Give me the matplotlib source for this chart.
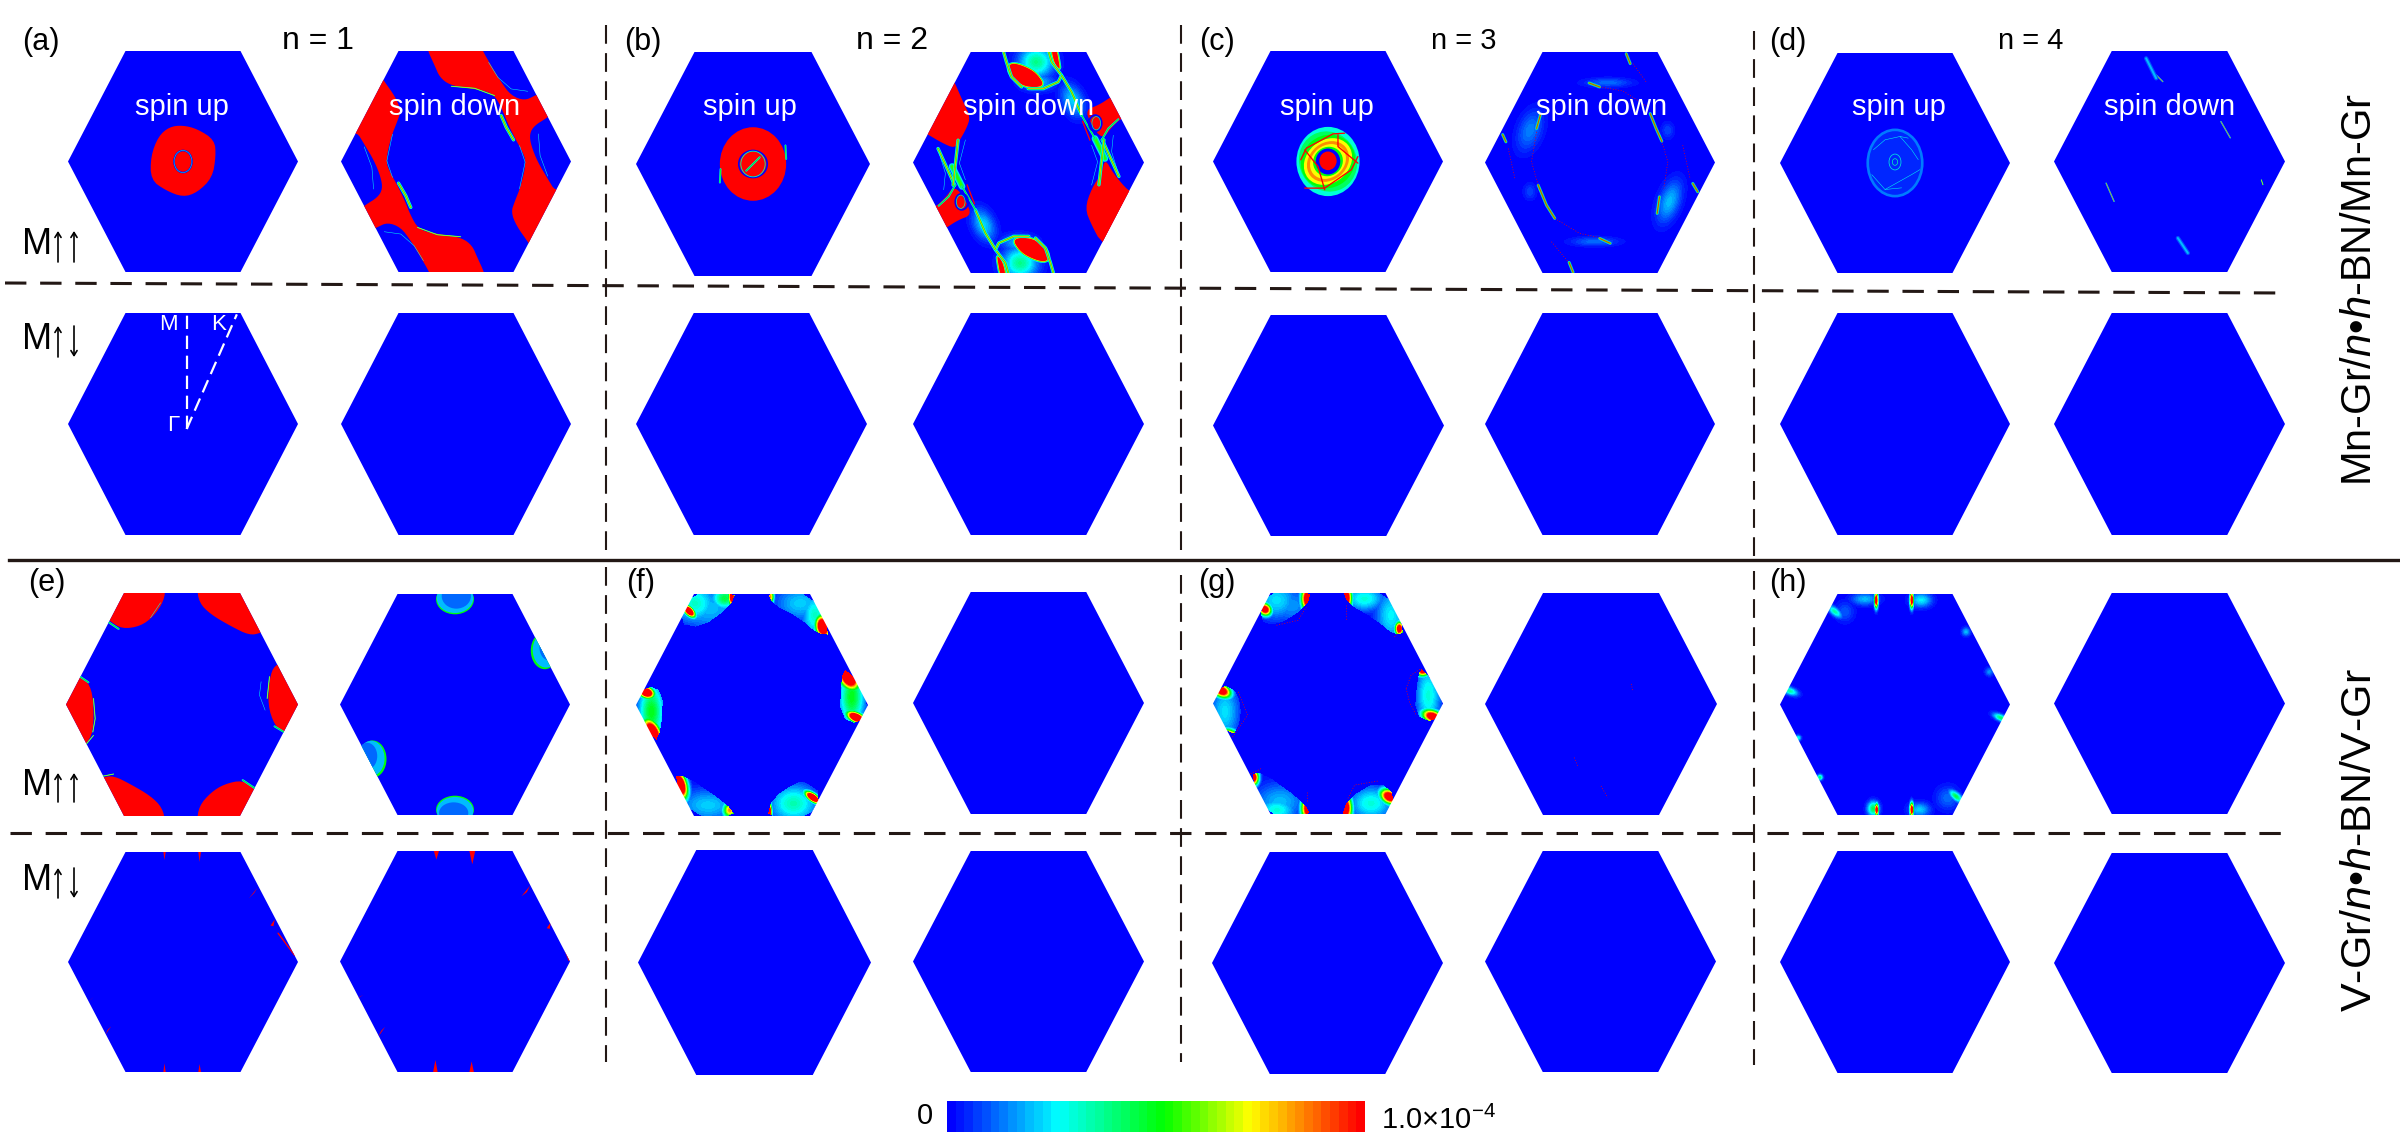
import numpy as np
import matplotlib
matplotlib.use("Agg")
import matplotlib.pyplot as plt
from matplotlib.colors import LinearSegmentedColormap, ListedColormap
from matplotlib.patches import Polygon, Ellipse
from matplotlib.path import Path

plt.rcParams['font.family'] = ['Liberation Sans', 'DejaVu Sans']
plt.rcParams['mathtext.fontset'] = 'custom'
plt.rcParams['mathtext.rm'] = 'Liberation Sans'
plt.rcParams['mathtext.it'] = 'Liberation Sans:italic'
plt.rcParams['mathtext.bf'] = 'Liberation Sans:bold'

W, H = 2400, 1145
INK = '#231815'

# ---------- panel boxes, read in image pixels ----------
ROW_LEFT = [[68, 341, 636, 913, 1213, 1485, 1780, 2054],
            [68, 341, 636, 913, 1213, 1485, 1780, 2054],
            [66, 340, 636, 913, 1213, 1485, 1780, 2054],
            [68, 340, 638, 913, 1212, 1485, 1780, 2054]]
ROW_RIGHT = [[298, 571, 870, 1144, 1443, 1715, 2010, 2285],
             [298, 571, 867, 1144, 1444, 1715, 2010, 2285],
             [298, 570, 868, 1144, 1443, 1717, 2010, 2285],
             [298, 570, 871, 1144, 1443, 1716, 2010, 2285]]
ROW_TOP = [[51, 51, 52, 52, 51, 52, 53, 51],
           [313, 313, 313, 313, 315, 313, 313, 313],
           [593, 594, 594, 592, 593, 593, 594, 593],
           [852, 851, 850, 851, 852, 851, 851, 853]]
ROW_BOTTOM = [[272, 272, 276, 273, 272, 273, 273, 272],
              [535, 535, 535, 535, 536, 535, 535, 535],
              [816, 815, 816, 814, 814, 815, 815, 814],
              [1072, 1072, 1075, 1072, 1074, 1072, 1073, 1073]]

# hexagon in panel units (3 units = 1 image pixel)
HEX_X = [-173, 173, 346, 173, -173, -346]
HEX_Y = [-332, -332, 0, 332, 332, 0]

# ---------- colour scale ----------
CBAR_POS = [0.0, 0.26, 0.52, 0.73, 1.0]
CBAR_COL = ['#0000ff', '#00ffff', '#00ff00', '#ffff00', '#ff0000']
CBAR_LEVELS = 48

# line layers: (width in panel units, level)
STYLES = {'hot': [(9, .2), (6, .42), (4, .62), (2, 1.0)],
          'green': [(10, .26), (6, .5), (2.5, .8)],
          'band': [(20, .24), (13, .42), (7, .55)],
          'teal': [(6, .22), (3, .48)],
          'rim': [(3, .4), (1.5, .7)],
          'red': [(4, 1.0)],
          'thin': [(4, .3), (1.5, .9)],
          'dot': [(2, 1.0)],
          'faint': [(1.5, .28)],
          'pale': [(13, .1), (6, .2)]}

# Blobs: (x, y, sigma_x, sigma_y, angle_deg, peak); polygons: vertices.
# ---------- (a) ----------
A_UP_RED = [(-2, -109), (43, -98), (95, -65), (99, -16), (88, 49), (43, 93), (0, 107),
            (-52, 87), (-97, 55), (-97, -16), (-74, -76), (-41, -104)]
A_UP_RINGS = [(0, 0, 27, 33, 0, 0.0, 5), (0, 0, 27, 33, 0, .3, 1.5)]
A_DN_RED = [(280, 17), (300, 60), (315, 95), (345, 118), (400, 128), (450, 135), (480, 150), (500, 185),
            (520, 235), (545, 285), (565, 320), (575, 350), (560, 420), (540, 470), (530, 500), (545, 540),
            (582, 592), (620, 650), (760, 500), (690, 420), (663, 438), (640, 400), (610, 350), (590, 300),
            (585, 265), (600, 240), (636, 218), (680, 185), (700, 100), (640, 130), (602, 150), (570, 165),
            (530, 150), (500, 110), (470, 60), (445, 17), (430, -20), (270, -20)]
A_DN_LINES = [([(500, 210), (515, 245), (537, 283)], 'green'),
              ([(462, 50), (490, 95), (530, 130), (580, 137)], 'faint'),
              ([(612, 265), (617, 330), (640, 392)], 'faint'),
              ([(350, 122), (420, 128), (480, 150)], 'rim'),
              ([(555, 300), (572, 350), (555, 430)], 'faint')]
# ---------- (b) ----------
B_UP_RINGS = [(0, 0, 42, 40, 0, 0.0, 5), (0, 0, 36, 38, 0, .35, 2.5)]
B_UP_LINES = [([(-20, 20), (0, 0), (20, -20)], 'teal'),
              ([(-96, 15), (-98, 55)], 'teal'), ([(96, -55), (98, -15)], 'teal')]
B_DN_RED = [[(135, 85), (150, 112), (175, 170), (197, 215), (185, 250), (165, 285), (150, 310), (110, 292),
             (70, 268), (20, 240), (60, 120)],
            [(90, 487), (120, 460), (150, 420), (185, 470), (200, 510), (160, 525), (125, 548), (100, 565), (50, 500)]]
B_DN_RED_ONCE = [[(600, 340), (625, 385), (672, 440), (720, 470), (660, 600), (590, 596), (560, 540), (540, 490),
                  (560, 430), (590, 385)]]
B_DN_TOP = [[(310, 60), (330, 53), (375, 70), (400, 90), (417, 118), (395, 127), (355, 122), (325, 100), (312, 80)],
            [(438, 10), (455, 10), (463, 55), (465, 72), (450, 58)]]
B_DN_BLOBS = [(395, 50, 35, 32, 0, .38), (400, 110, 35, 18, 0, .2), (505, 165, 22, 35, -25, .22)]
B_DN_LINES = [([(295, 15), (305, 50), (320, 95), (350, 125)], 'green'),
              ([(430, 15), (440, 50), (470, 90), (460, 110), (415, 130), (370, 130)], 'green'),
              ([(470, 90), (500, 140), (530, 210)], 'green'),
              ([(570, 280), (600, 340)], 'band'),
              ([(592, 284), (642, 394)], 'green'),
              ([(582, 419), (597, 284)], 'green'),
              ([(590, 285), (610, 250), (640, 222)], 'teal'),
              ([(530, 210), (570, 280)], 'teal'),
              ([(533, 228), (555, 285)], 'red'),
              ([(625, 270), (620, 320), (640, 385)], 'faint'),
              ([(560, 300), (578, 350), (560, 420)], 'faint')]
B_DN_RINGS = [(171, 470, 19, 24, 0, 0.0, 6), (168, 470, 13, 20, 0, .35, 2)]
# ---------- (c) ----------
C_UP_ELLIPSES = [(0, 0, 95, 104, 0, .3), (0, 0, 86, 92, -30, .42), (0, 0, 84, 78, -40, .52),
                 (0, 0, 78, 64, -40, .72), (0, 0, 68, 56, -40, .84), (0, 0, 58, 48, -40, .72),
                 (0, 0, 46, 43, -40, .5), (0, 0, 37, 39, 0, 0.0), (0, -2, 26, 28, 0, 1.0)]
C_UP_LINES = [([(-82, -5), (-65, -40), (15, -83), (50, -85)], 'red'),
              ([(-70, -35), (-30, 15), (-10, 85)], 'red'),
              ([(30, -80), (30, -45), (90, 5)], 'red'),
              ([(90, -15), (70, 25), (-10, 80), (-70, 80)], 'red')]
C_DN_BLOBS = [(150, 255, 25, 45, 20, .14), (570, 470, 22, 45, 20, .2), (345, 590, 50, 10, 0, .12),
              (385, 112, 50, 10, 0, .12), (150, 440, 14, 18, 0, .08), (565, 255, 14, 18, 0, .08)]
C_DN_LINES = [([(512, 205), (530, 250), (547, 288)], 'hot'),
              ([(175, 420), (200, 480), (225, 520)], 'hot'),
              ([(182, 208), (170, 250)], 'hot'),
              ([(540, 455), (533, 505)], 'hot'),
              ([(328, 113), (360, 125)], 'hot'),
              ([(392, 595), (360, 580)], 'hot'),
              ([(440, 25), (452, 55)], 'hot'),
              ([(268, 652), (280, 682)], 'hot'),
              ([(68, 268), (78, 290)], 'hot'),
              ([(640, 415), (655, 440)], 'hot'),
              ([(360, 125), (430, 137), (505, 185)], 'dot'),
              ([(547, 288), (565, 350), (553, 430)], 'dot'),
              ([(225, 520), (300, 565), (360, 578)], 'dot'),
              ([(170, 260), (155, 350), (175, 420)], 'dot'),
              ([(85, 310), (105, 400)], 'dot'),
              ([(610, 300), (632, 400)], 'dot'),
              ([(460, 55), (500, 110)], 'dot'),
              ([(215, 590), (265, 650)], 'dot')]
# ---------- (d) ----------
D_UP_ELLIPSES = [(0, 0, 86, 104, 0, .13), (0, 0, 78, 96, 0, .06)]
D_UP_LINES = [([(-65, -40), (-30, -70), (15, -80), (40, -75)], 'faint'),
              ([(15, -80), (50, -40), (70, -10)], 'faint'),
              ([(-70, 35), (-30, 80), (20, 75)], 'faint'),
              ([(-30, 80), (50, 35), (75, 20)], 'faint')]
D_UP_RINGS = [(0, -3, 18, 24, 0, .3, 2), (0, -3, 8, 10, 0, .35, 2)]
D_DN_LINES = [([(154, -120), (182, -71)], 'thin'),
              ([(-190, 65), (-166, 120)], 'thin'),
              ([(-40, -260), (-20, -240)], 'thin'), ([(25, 230), (55, 275)], 'pale'),
              ([(-70, -310), (-40, -250)], 'pale'), ([(275, 55), (280, 70)], 'rim')]
# ---------- (e) ----------
E_UP_RED = [[(190, 5), (315, 5), (310, 50), (280, 95), (240, 125), (185, 133), (150, 110), (130, 95), (170, 5)],
            [(408, 5), (555, 5), (620, 130), (600, 145), (565, 152), (510, 125), (450, 90), (415, 55)],
            [(640, 240), (680, 230), (740, 358), (690, 450), (668, 440), (640, 420), (620, 360), (625, 280)],
            [(60, 278), (85, 292), (100, 340), (100, 440), (75, 480), (55, 490), (-10, 360), (40, 260)],
            [(125, 575), (160, 570), (210, 595), (270, 630), (305, 665), (315, 710), (170, 710), (110, 590)],
            [(408, 710), (415, 660), (450, 620), (490, 595), (545, 583), (580, 610), (600, 625), (545, 710)]]
E_UP_LINES = [([(145, 113), (175, 133)], 'teal'), ([(60, 275), (85, 292)], 'teal'),
              ([(75, 480), (100, 450)], 'rim'), ([(125, 572), (160, 565)], 'rim'),
              ([(545, 583), (582, 608)], 'teal'), ([(640, 423), (668, 440)], 'teal'),
              ([(100, 340), (105, 400), (98, 440)], 'rim'), ([(625, 275), (618, 340)], 'rim'),
              ([(300, 55), (270, 100)], 'faint'), ([(600, 290), (595, 330), (612, 375)], 'faint')]
E_DN_ELLIPSES = [(0, -316, 57, 45, 0, .5), (0, -320, 55, 45, 0, .2), (4, -326, 44, 38, 0, .12),
                 (270, -162, 42, 56, 0, .5), (274, -164, 40, 53, 0, .2), (284, -172, 30, 40, 0, .12),
                 (-248, 164, 42, 56, 0, .5), (-252, 162, 40, 53, 0, .2), (-264, 155, 30, 40, 0, .12),
                 (0, 316, 57, 42, 0, .5), (0, 320, 55, 42, 0, .2), (-4, 326, 44, 32, 0, .12)]
E2_UP_SPIKES = [[(-59, -332), (-52, -332), (-56, -308)], [(46, -332), (54, -332), (50, -302)],
                [(224, -224), (198, -192), (214, -208)], [(263, -110), (276, -128), (272, -108)],
                [(-284, 120), (-268, 105), (-276, 112)], [(-234, 220), (-216, 194), (-226, 204)],
                [(-59, 332), (-52, 332), (-56, 306)], [(46, 332), (54, 332), (50, 308)]]
E2_DN_SPIKES = [[(-64, -333), (-48, -333), (-56, -306)], [(43, -333), (61, -333), (52, -292)],
                [(226, -228), (200, -196), (216, -208)], [(276, -100), (288, -118), (285, -98)],
                [(-298, 112), (-276, 100), (-288, 108)], [(-232, 228), (-210, 196), (-222, 208)],
                [(-66, 333), (-52, 333), (-59, 296)], [(43, 333), (57, 333), (50, 300)]]
E2_UP_LINES = [([(286, -87), (336, -20)], 'red')]
E2_DN_LINES = [([(316, -76), (343, -3)], 'red')]
# ---------- (f) ----------
F_POCKETS = [([(185, 20), (320, 20), (300, 65), (215, 128), (145, 115)],
              [(178, 78, 15, 8, 45, 1.6), (285, 40, 26, 22, 0, .46), (306, 35, 7, 20, 0, 1.25), (195, 55, 45, 40, 0, .32),
               (240, 70, 70, 50, 0, .2)]),
             ([(410, 20), (540, 20), (605, 150), (560, 145), (510, 100), (430, 60)],
              [(578, 125, 14, 22, -10, 1.6), (420, 35, 8, 16, 0, .85), (510, 55, 55, 38, 0, .22), (555, 90, 28, 45, 0, .32)]),
             ([(5, 360), (50, 300), (100, 320), (95, 430), (75, 475)],
              [(50, 322, 16, 11, 20, 1.6), (68, 442, 15, 28, -25, 1.6), (65, 380, 26, 60, 0, .5)]),
             ([(650, 245), (722, 360), (685, 420), (630, 395), (632, 280)],
              [(655, 275, 18, 28, -30, 1.6), (678, 397, 20, 10, 25, 1.6), (665, 335, 26, 60, 0, .5)]),
             ([(130, 575), (165, 570), (290, 655), (320, 695), (185, 695)],
              [(150, 600, 14, 28, -15, 1.6), (300, 675, 14, 16, 0, .85), (235, 660, 65, 35, 0, .22)]),
             ([(410, 700), (425, 640), (500, 590), (525, 590), (575, 625), (535, 700)],
              [(548, 637, 18, 8, 35, 1.6), (418, 680, 5, 18, 0, 1.25), (490, 655, 50, 40, 0, .34)])]
F2_DN_LINES = [([(295, -330), (295, -310)], 'faint')]
# ---------- (g) ----------
G_POCKETS = [([(190, 15), (320, 15), (305, 65), (215, 122), (160, 105)],
              [(180, 72, 14, 12, 40, 1.25), (308, 40, 13, 26, 0, 1.3), (215, 45, 45, 40, 0, .24), (260, 60, 50, 40, 0, .16)]),
             ([(415, 15), (545, 15), (605, 140), (570, 150), (510, 100), (430, 55)],
              [(585, 130, 9, 14, 0, 1.25), (425, 38, 12, 26, 0, 1.3), (480, 40, 40, 25, 0, .3), (560, 90, 32, 55, 0, .26)]),
             ([(10, 355), (50, 295), (100, 320), (110, 400), (80, 462)],
              [(50, 316, 20, 13, 25, 1.3), (78, 455, 20, 13, 30, 1.25), (60, 380, 30, 60, 0, .24)]),
             ([(655, 245), (725, 355), (690, 415), (630, 390), (640, 270)],
              [(655, 255, 14, 12, 0, 1.2), (685, 395, 22, 13, 20, 1.3), (672, 330, 26, 65, 0, .3)]),
             ([(135, 570), (170, 560), (295, 650), (320, 695), (185, 695)],
              [(145, 578, 11, 16, 0, 1.25), (310, 670, 14, 26, 0, 1.3), (225, 650, 55, 40, 0, .2), (215, 675, 40, 25, 0, .3)]),
             ([(410, 700), (430, 640), (520, 588), (575, 630), (545, 700)],
              [(555, 635, 20, 14, 30, 1.3), (422, 670, 14, 28, 0, 1.35), (500, 655, 45, 35, 0, .3)])]
G_LINES = [([(215, 120), (280, 105), (305, 65)], 'dot'), ([(100, 320), (128, 390), (80, 460)], 'dot'),
           ([(605, 310), (620, 270), (650, 250)], 'dot'), ([(605, 310), (615, 350), (635, 390)], 'dot'),
           ([(130, 570), (170, 550)], 'dot'), ([(430, 640), (450, 600), (520, 588)], 'dot'),
           ([(570, 155), (590, 135)], 'dot'), ([(308, 620), (308, 650)], 'dot'), ([(425, 60), (425, 105)], 'dot')]
G_DN_LINES = [([(90, -60), (95, -40)], 'dot'), ([(-80, 160), (-70, 185)], 'dot'), ([(0, 245), (20, 280)], 'dot')]
# ---------- (h) ----------
H_BLOBS = [(304, 45, 4, 16, 0, 1.3), (270, 42, 28, 13, 0, .2), (412, 45, 4, 16, 0, 1.3), (440, 45, 22, 15, 0, .26),
           (180, 80, 17, 8, 40, .36), (210, 80, 20, 22, 0, .1), (45, 318, 17, 8, 20, .36), (680, 400, 17, 7, 25, .42),
           (545, 635, 17, 8, 40, .45), (520, 640, 25, 25, 0, .12), (295, 672, 12, 15, 0, .45), (305, 675, 4, 12, 0, 1.3),
           (412, 675, 4, 14, 0, 1.3), (435, 675, 22, 15, 0, .22), (70, 460, 6, 6, 0, .3), (135, 578, 6, 6, 0, .42),
           (575, 140, 9, 9, 0, .2), (645, 260, 9, 9, 0, .16)]

# ---------- annotation texts ----------
PANEL_LABELS = ['(a)', '(b)', '(c)', '(d)', '(e)', '(f)', '(g)', '(h)']
LABEL_X = [22, 624, 1199, 1769, 28, 626, 1198, 1769]
LABEL_Y = [42, 42, 42, 42, 583, 583, 583, 583]
N_LABELS = ['n = 1', 'n = 2', 'n = 3', 'n = 4']
N_X = [318, 892, 1464, 2031]
N_SIZE = [23, 23, 21, 21]
SPIN_UP_X = [182, 750, 1327, 1899]
SPIN_DOWN_X = [455, 1029, 1602, 2170]
MAG_Y0 = [229, 324, 771, 866]
MAG_Y1 = [260, 355, 800, 896]
MAG_SECOND_UP = [True, False, True, False]
RIGHT_LABELS = ['Mn-Gr/$\\mathit{n}$•$\\mathit{h}$-BN/Mn-Gr', 'V-Gr/$\\mathit{n}$•$\\mathit{h}$-BN/V-Gr']
RIGHT_Y = [290, 840]
RIGHT_SIZE = [30, 31]
VLINE_X = [606, 606, 1181, 1181, 1754, 1754]
VLINE_Y0 = [25, 567, 25, 575, 31, 571]
VLINE_Y1 = [554, 1062, 554, 1062, 558, 1065]
CBAR_BOX = [947, 1365, 1101, 1132]

# ---------- which features go in which panel ----------
PANELS = {
    (0, 0): dict(red=[A_UP_RED], rings=A_UP_RINGS),
    (0, 1): dict(origin=(364, 348), red=[A_DN_RED], lines=A_DN_LINES, inv=True),
    (0, 2): dict(ellipses=[(0, 0, 98, 109, 0, 1.0)], rings=B_UP_RINGS, lines=B_UP_LINES),
    (0, 3): dict(origin=(371, 352), red=B_DN_RED, red_once=B_DN_RED_ONCE, rimred=B_DN_TOP, blobs=B_DN_BLOBS,
                 lines=B_DN_LINES, rings=B_DN_RINGS, inv=True),
    (0, 4): dict(ellipses=C_UP_ELLIPSES, lines=C_UP_LINES),
    (0, 5): dict(origin=(361, 352), blobs=C_DN_BLOBS, lines=C_DN_LINES),
    (0, 6): dict(ellipses=D_UP_ELLIPSES, lines=D_UP_LINES, rings=D_UP_RINGS),
    (0, 7): dict(lines=D_DN_LINES),
    (1, 0): dict(path=True),
    (2, 0): dict(origin=(364, 358), red=E_UP_RED, lines=E_UP_LINES),
    (2, 1): dict(ellipses=E_DN_ELLIPSES),
    (2, 2): dict(origin=(366, 359), pockets=F_POCKETS),
    (2, 3): dict(lines=F2_DN_LINES),
    (2, 4): dict(origin=(370, 355), pockets=G_POCKETS, lines=G_LINES),
    (2, 5): dict(lines=G_DN_LINES),
    (2, 6): dict(origin=(361, 359), blobs=H_BLOBS),
    (3, 0): dict(spikes=E2_UP_SPIKES, lines=E2_UP_LINES),
    (3, 1): dict(spikes=E2_DN_SPIKES, lines=E2_DN_LINES),
}
BM_PATHS = [[(11, 15), (11, -331)], [(11, 15), (162, -328)]]
BM_NAMES = [('M', -45, -299), ('K', 107, -299), ('Γ', -29, 4)]

# ---------- helpers ----------
grad = LinearSegmentedColormap.from_list('jetlike', list(zip(CBAR_POS, CBAR_COL)))
cmap = ListedColormap(grad(np.linspace(0, 1, CBAR_LEVELS)))


def lw(u):
    return u * 0.24


def chaikin(pts, n=2):
    p = np.asarray(pts, float)
    for _ in range(n):
        q = np.roll(p, -1, axis=0)
        p = np.column_stack([0.75 * p + 0.25 * q, 0.25 * p + 0.75 * q]).reshape(-1, 2)
    return p


def shift(pts, org):
    return np.asarray(pts, float) - np.asarray(org, float)


xs = np.linspace(-346, 346, 462)
ys = np.linspace(-332, 332, 444)
GX, GY = np.meshgrid(xs, ys)
GRID_PTS = np.column_stack([GX.ravel(), GY.ravel()])


def blob_field(blobs, org, sign=1):
    f = np.zeros_like(GX)
    for (x, y, sx, sy, ang, peak) in blobs:
        cx, cy = sign * (x - org[0]), sign * (y - org[1])
        a = np.deg2rad(ang)
        dx, dy = GX - cx, GY - cy
        u = dx * np.cos(a) + dy * np.sin(a)
        v = -dx * np.sin(a) + dy * np.cos(a)
        f = np.maximum(f, peak * np.exp(-0.5 * ((u / sx) ** 2 + (v / sy) ** 2)))
    return f


def draw_panel(ax, spec):
    org = spec.get('origin', (0, 0))
    signs = [1, -1] if spec.get('inv') else [1]
    hexpoly = Polygon(np.column_stack([HEX_X, HEX_Y]), closed=True, fc='none', ec='none', transform=ax.transData)
    ax.add_patch(hexpoly)
    field = np.zeros_like(GX)
    for s in signs:
        field = np.maximum(field, blob_field(spec.get('blobs', []), org, s))
    for poly, blobs in spec.get('pockets', []):
        mask = Path(shift(chaikin(poly, 1), org)).contains_points(GRID_PTS).reshape(GX.shape)
        field = np.where(mask, np.maximum(field, blob_field(blobs, org)), field)
    im = ax.imshow(np.clip(field, 0, 1), extent=(-346, 346, 332, -332), origin='upper', cmap=cmap, vmin=0, vmax=1,
                   interpolation='nearest', aspect='auto', zorder=1)
    im.set_clip_path(hexpoly)
    art = []
    for e in spec.get('ellipses', []):
        art.append(ax.add_patch(Ellipse((e[0], e[1]), 2 * e[2], 2 * e[3], angle=e[4], fc=cmap(e[5]), ec='none', zorder=2)))
    for p in spec.get('spikes', []):
        art.append(ax.add_patch(Polygon(p, fc=cmap(1.0), ec='none', zorder=3)))
    for s in signs:
        for poly in spec.get('rimred', []):
            p = chaikin(s * shift(poly, org))
            for w, lev in [(10, .28), (6, .5), (3, .72)]:
                art.append(ax.add_patch(Polygon(p, fc=cmap(lev), ec=cmap(lev), lw=lw(w), zorder=3)))
            art.append(ax.add_patch(Polygon(p, fc=cmap(1.0), ec='none', zorder=3)))
        for poly in spec.get('red', []):
            p = chaikin(s * shift(poly, org))
            art.append(ax.add_patch(Polygon(p, fc=cmap(1.0), ec='none', zorder=3)))
        for (pts, style) in spec.get('lines', []):
            p = s * shift(pts, org)
            for w, lev in STYLES[style]:
                ln, = ax.plot(p[:, 0], p[:, 1], color=cmap(lev), lw=lw(w), solid_capstyle='round', zorder=4,
                              ls=(0, (1.5, 2.5)) if style == 'dot' else '-')
                art.append(ln)
        for r in spec.get('rings', []):
            c = s * (np.array(r[:2], float) - np.array(org, float))
            art.append(ax.add_patch(Ellipse(c, 2 * r[2], 2 * r[3], angle=r[4], fc='none', ec=cmap(r[5]), lw=lw(r[6]), zorder=5)))
    for poly in spec.get('red_once', []):
        art.append(ax.add_patch(Polygon(chaikin(shift(poly, org)), fc=cmap(1.0), ec='none', zorder=3.5)))
    for a in art:
        a.set_clip_path(hexpoly)


fig = plt.figure(figsize=(W / 100, H / 100), dpi=100, facecolor='white')

for r in range(4):
    for c in range(8):
        x0, x1, y0, y1 = ROW_LEFT[r][c], ROW_RIGHT[r][c], ROW_TOP[r][c], ROW_BOTTOM[r][c]
        ax = fig.add_axes([x0 / W, 1 - y1 / H, (x1 - x0) / W, (y1 - y0) / H])
        ax.set_xlim(-346, 346)
        ax.set_ylim(332, -332)
        ax.axis('off')
        spec = PANELS.get((r, c), {})
        draw_panel(ax, spec)
        if spec.get('path'):
            for p in BM_PATHS:
                p = np.array(p)
                ax.plot(p[:, 0], p[:, 1], color='white', lw=1.6, ls=(0, (6, 3)), zorder=6)
            for name, tx, ty in BM_NAMES:
                ax.text(tx, ty, name, color='white', fontsize=16, ha='center', va='center', zorder=7)

# overlay in image pixels
ov = fig.add_axes([0, 0, 1, 1], facecolor='none')
ov.set_xlim(0, W)
ov.set_ylim(H, 0)
ov.axis('off')

for x, y0, y1 in zip(VLINE_X, VLINE_Y0, VLINE_Y1):
    ov.plot([x, x], [y0, y1], color=INK, lw=1.5, ls=(0, (9, 4.5)))
ov.plot([5, 2285], [283, 293], color=INK, lw=2.2, ls=(0, (7, 4.5)))
ov.plot([10, 2285], [833, 833], color=INK, lw=2.2, ls=(0, (7, 4.5)))
ov.plot([9, 2400], [560, 560], color=INK, lw=2.4)

for t, x, y in zip(PANEL_LABELS, LABEL_X, LABEL_Y):
    ov.text(x, y, t, fontsize=22, ha='left', va='center', color='black')
for t, x, s in zip(N_LABELS, N_X, N_SIZE):
    ov.text(x, 41, t, fontsize=s, ha='center', va='center', color='black')
for x in SPIN_UP_X:
    ov.text(x, 107, 'spin up', fontsize=21, ha='center', va='center', color='white')
for x in SPIN_DOWN_X:
    ov.text(x, 107, 'spin down', fontsize=21, ha='center', va='center', color='white')
for y0, y1, up2 in zip(MAG_Y0, MAG_Y1, MAG_SECOND_UP):
    ov.text(22, (y0 + y1) / 2, 'M', fontsize=26, ha='left', va='center', color='black')
    ov.annotate('', xy=(58, y0 + 2), xytext=(58, y1 + 2),
                arrowprops=dict(arrowstyle='->,head_width=0.22,head_length=0.35', lw=1.2, color='black', shrinkA=0, shrinkB=0))
    ya, yb = (y0 + 2, y1 + 2) if up2 else (y1 + 2, y0 + 2)
    ov.annotate('', xy=(74, ya), xytext=(74, yb),
                arrowprops=dict(arrowstyle='->,head_width=0.22,head_length=0.35', lw=1.2, color='black', shrinkA=0, shrinkB=0))
for t, y, s in zip(RIGHT_LABELS, RIGHT_Y, RIGHT_SIZE):
    ov.text(2360, y, t, fontsize=s, rotation=90, ha='center', va='center', color='black')

# colour bar
cb = fig.add_axes([CBAR_BOX[0] / W, 1 - CBAR_BOX[3] / H, (CBAR_BOX[1] - CBAR_BOX[0]) / W, (CBAR_BOX[3] - CBAR_BOX[2]) / H])
cb.imshow(np.linspace(0, 1, CBAR_LEVELS)[None, :], cmap=cmap, aspect='auto', vmin=0, vmax=1, interpolation='nearest')
cb.axis('off')
ov.text(925, 1116, '0', fontsize=21, ha='center', va='center', color='black')
ov.text(1381, 1129, '1.0×10$^{-4}$', fontsize=21, ha='left', va='baseline', color='black')

fig.savefig('out.png', dpi=100, facecolor='white')
